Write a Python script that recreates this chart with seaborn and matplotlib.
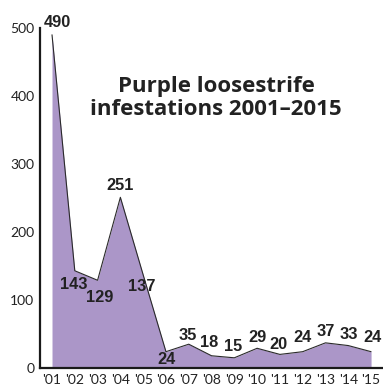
import matplotlib
matplotlib.use("Agg")
import matplotlib.pyplot as plt
import seaborn as sns
import pandas as pd
import numpy as np

years = ["'01", "'02", "'03", "'04", "'05", "'06", "'07", "'08", "'09", "'10",
         "'11", "'12", "'13", "'14", "'15"]
infestations = [490, 143, 129, 251, 137, 24, 35, 18, 15, 29, 20, 24, 37, 33, 24]
y_ticks = [0, 100, 200, 300, 400, 500]
title_text = "Purple loosestrife\ninfestations 2001\u20132015"

# label offsets in pixels (style)
label_offsets = [(5, 12), (-1, -14), (2, -17), (0, 12), (-1, -12), (1, -8),
                 (-1, 9), (-2, 13), (-1, 11), (0, 11), (-1, 10), (0, 14),
                 (0, 11), (1, 11), (1, 14)]

sns.set_style("white")
plt.rcParams["font.family"] = ["Lato", "DejaVu Sans"]

df = pd.DataFrame({"idx": np.arange(len(years)), "year": years, "value": infestations})

fig = plt.figure(figsize=(3.83, 3.90), dpi=100)
W, H = 383, 390
ax = fig.add_axes([40 / W, 22 / H, (382 - 40) / W, (362 - 22) / H])

fill_color = "#ab96c8"
ax.fill_between(df["idx"], df["value"], 0, color=fill_color, linewidth=0, zorder=1)
sns.lineplot(data=df, x="idx", y="value", ax=ax, color="#2a2a2a", linewidth=0.8, zorder=2)

ax.set_xlim(-0.527, 14.48)
ax.set_ylim(0, 500)
ax.set_xticks(df["idx"])
ax.set_xticklabels(years)
ax.set_yticks(y_ticks)
ax.set_xlabel("")
ax.set_ylabel("")

for s in ["top", "right"]:
    ax.spines[s].set_visible(False)
for s in ["left", "bottom"]:
    ax.spines[s].set_visible(True)
    ax.spines[s].set_linewidth(1.6)
    ax.spines[s].set_color("#1a1a1a")
    ax.spines[s].set_zorder(5)

ax.tick_params(axis="both", direction="in", length=5.8, width=1.5, color="#1a1a1a",
               labelsize=10, labelcolor="#222222", pad=4)
for t in ax.get_xticklabels() + ax.get_yticklabels():
    t.set_zorder(6)

for i, (v, off) in enumerate(zip(infestations, label_offsets)):
    ax.annotate(str(v), xy=(i, v), xytext=off, textcoords="offset pixels",
                ha="center", va="center", fontsize=11.8, fontweight="bold",
                family=["Liberation Sans", "DejaVu Sans"], color="#222222", zorder=7)

fig.text(216 / W, 1 - 98 / H, title_text, ha="center", va="center",
         fontsize=16, fontweight="bold", color="#222222", linespacing=1.15,
         family=["Open Sans", "DejaVu Sans"])

fig.savefig("out.png", dpi=100)
